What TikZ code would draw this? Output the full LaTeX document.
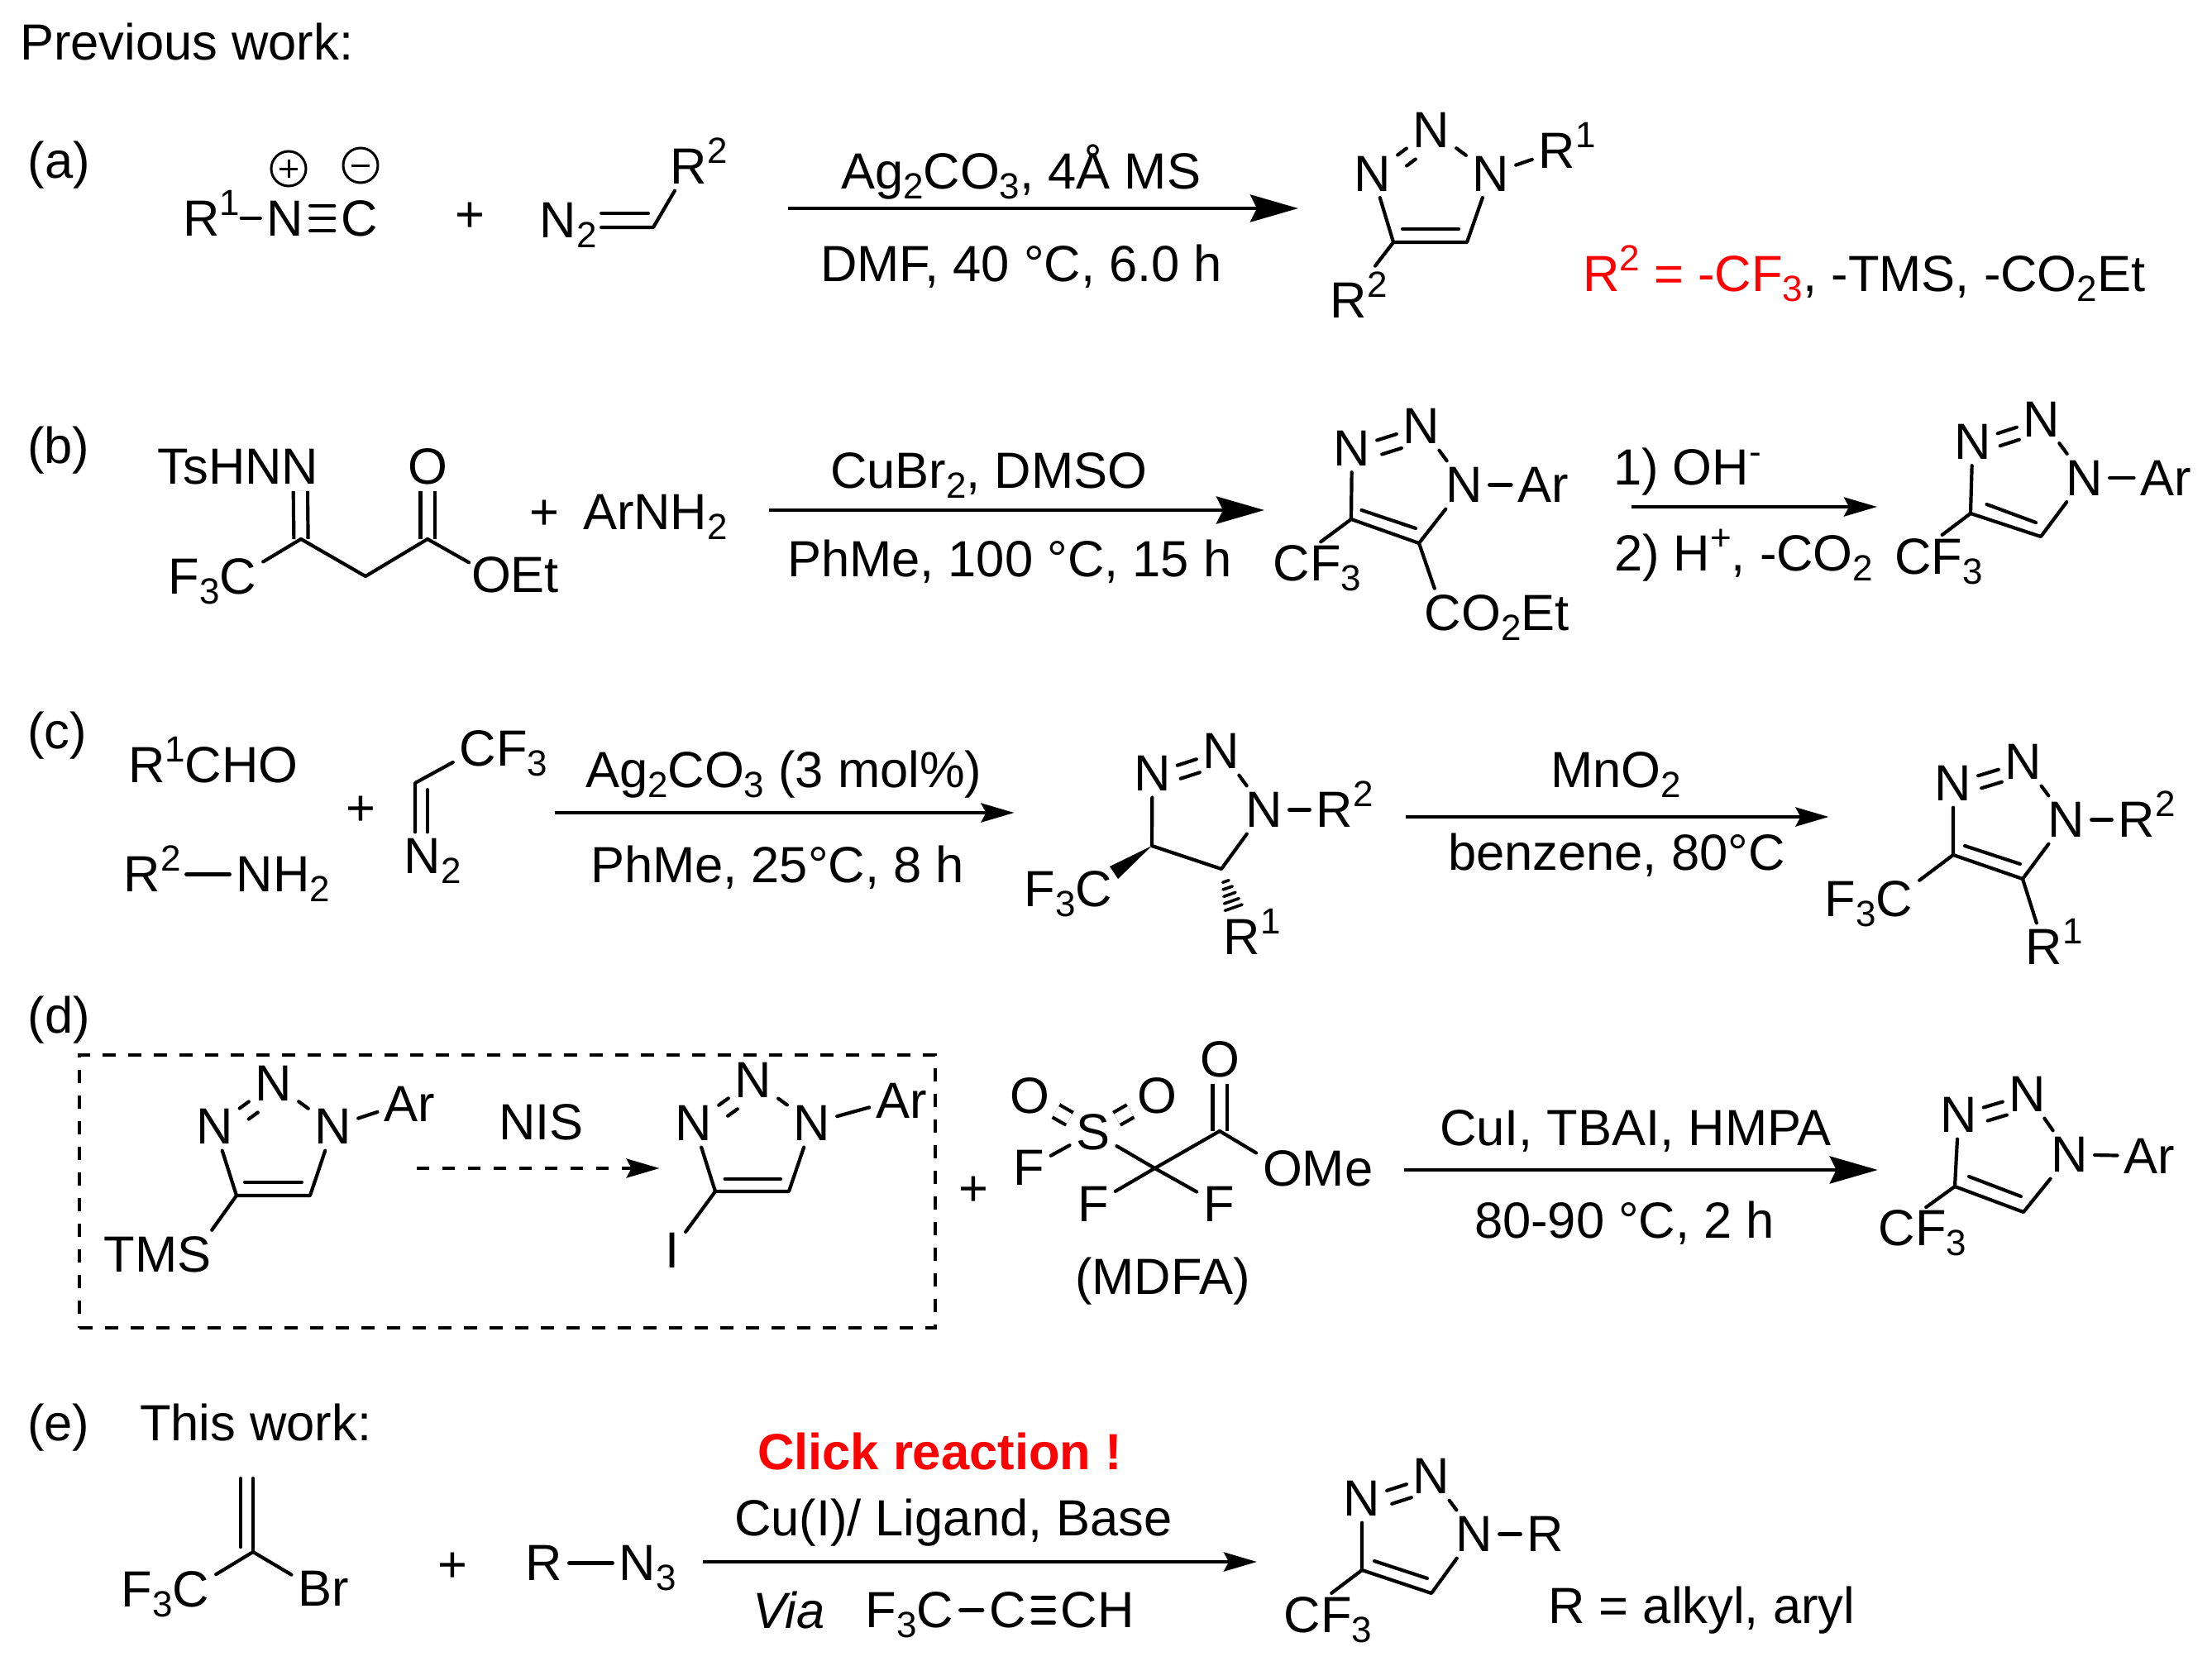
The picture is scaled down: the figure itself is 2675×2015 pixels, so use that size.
\documentclass[tikz,border=0pt]{standalone}
\usepackage{fontspec}
\setmainfont{Liberation Sans}
\usetikzlibrary{arrows.meta,calc}
\newcommand{\spx}[1]{\smash{\raisebox{25pt}{\fontsize{44}{44}\selectfont #1}}}
\newcommand{\sbx}[1]{\smash{\raisebox{-12pt}{\fontsize{44}{44}\selectfont #1}}}
% prefix, N1 (beside C4), N2 (apex), N3 (substituted), C4, C5, shift of the second N=N line
\newcommand{\tria}[7]{%
  \node[atom] (#1a) at #2 {N};
  \node[atom] (#1b) at #3 {N};
  \node[atom] (#1c) at #4 {N};
  \coordinate (#1d) at #5;
  \coordinate (#1e) at #6;
  \draw[bond] (#1a) -- (#1d) -- (#1e) -- (#1c);
  \draw[bond] (#1a) -- (#1b) -- (#1c);
  \draw[bond,transform canvas={shift={#7}}] (#1a) -- (#1b);
}
\tikzset{
  every node/.style={font=\fontsize{61.5}{72}\selectfont,outer sep=0pt},
  txt/.style={anchor=base west,inner sep=0pt},
  plusn/.style={anchor=base,inner sep=0pt},
  atom/.style={anchor=center,inner sep=8pt},
  atomw/.style={anchor=center,inner sep=13pt},
  bond/.style={line width=4.2pt,line cap=round,line join=round},
  dbl/.style={line width=4.2pt,double,double distance=13pt},
  bigarrow/.style={line width=4.5pt,-{Stealth[length=58pt,width=33pt,inset=8pt]}},
  smallarrow/.style={line width=4.5pt,-{Stealth[length=40pt,width=23pt,inset=6pt]}},
  dasharrow/.style={line width=4pt,dash pattern=on 15pt off 16pt,-{Stealth[length=40pt,width=23pt,inset=6pt]}},
  dashbox/.style={draw,line width=3.8pt,dash pattern=on 16pt off 15pt,inner sep=0pt,minimum width=1035pt,minimum height=330pt},
  charge/.style={circle,draw,line width=3pt,minimum size=42pt,inner sep=0pt},
}
\begin{document}
\begin{tikzpicture}[x=1pt,y=-1pt]
\useasboundingbox (0,0) rectangle (2675,2015);
\node[txt] (title) at (24,73) {Previous work:};

% ---------- (a)
\node[txt] (la) at (34,215) {(a)};
\node[atom] (ar1) at (243.5,264) {R\rlap{\spx{1}}};
\node[atom] (an) at (345,264) {N};
\node[atom] (ac) at (434.5,264) {C};
\draw[bond,shorten <=18pt] (ar1) -- (an);
\draw[bond] (an) -- (ac);
\draw[bond] ([yshift=-15pt]an.east) -- ([yshift=-15pt]ac.west);
\draw[bond] ([yshift=15pt]an.east) -- ([yshift=15pt]ac.west);
\node[charge] (apl) at (349,204) {};
\draw[line width=3pt] ([xshift=-11pt]apl.center) -- ([xshift=11pt]apl.center);
\draw[line width=3pt] ([yshift=-11pt]apl.center) -- ([yshift=11pt]apl.center);
\node[charge] (ami) at (436,200) {};
\draw[line width=3pt] ([xshift=-11pt]ami.center) -- ([xshift=11pt]ami.center);
\node[plusn] (aplus) at (568,280) {+};
\node[atom] (an2) at (675,266.5) {N\rlap{\sbx{2}}};
\coordinate (acv) at (790,275);
\coordinate (acv2) at (784,258);
\node[atom] (ar2) at (833,201.5) {R\rlap{\spx{2}}};
\draw[bond,shorten <=22pt] (acv -| an2.east) -- (acv) -- (ar2);
\draw[bond,shorten <=22pt] (acv2 -| an2.east) -- (acv2);
\node[txt] (arg1) at (1017,228) {Ag\sbx{2}CO\sbx{3}, 4Å MS};
\node[txt] (arg2) at (992,340) {DMF, 40 °C, 6.0 h};
\coordinate (aas) at (953,252);
\coordinate (aae) at (1570,252);
\draw[bigarrow] (aas) -- (aae);
\tria{ap}{(1660,210)}{(1731,157)}{(1803,210)}{(1685,293)}{(1774,293)}{(11,13)}
\coordinate (api) at (1696,277);
\coordinate (apj) at (1764,277);
\draw[bond] (api) -- (apj);
\node[atom] (apr1) at (1883,182.5) {R\rlap{\spx{1}}};
\draw[bond] (apc) -- (apr1);
\node[atom] (apr2) at (1631,363.5) {R\rlap{\spx{2}}};
\draw[bond,shorten >=16pt] (apd) -- (apr2);
\node[txt] (anote) at (1914.5,352) {\textcolor{red}{R\spx{2} = -CF\sbx{3}}, -TMS, -CO\sbx{2}Et};

% ---------- (b)
\node[txt] (lb) at (33,560) {(b)};
\node[atom] (bn) at (363,564.5) {\llap{TsHN}N};
\coordinate (bc1) at (364,652);
\coordinate (bch) at (442,697);
\coordinate (bc2) at (517,652);
\node[atom] (bo) at (517,564.5) {O};
\node[atom] (bf) at (288,697.5) {\llap{F\sbx{3}}C};
\node[atom,inner sep=3pt] (boe) at (594,695.5) {O\rlap{Et}};
\draw[dbl] (bn) -- (bc1);
\draw[dbl] (bo) -- (bc2);
\draw[bond] (bf) -- (bc1) -- (bch) -- (bc2) -- (boe);
\node[plusn] (bplus) at (658,640) {+};
\node[txt] (barn) at (705,640) {ArNH\sbx{2}};
\node[txt] (brg1) at (1004,590) {CuBr\sbx{2}, DMSO};
\node[txt] (brg2) at (952,697) {PhMe, 100 °C, 15 h};
\coordinate (bas) at (930,617);
\coordinate (bae) at (1529,617);
\draw[bigarrow] (bas) -- (bae);
\tria{bp}{(1635,542)}{(1719,515.5)}{(1771,586.5)}{(1634,628)}{(1716,657)}{(6,17)}
\coordinate (bpi) at (1646.5,617);
\coordinate (bpj) at (1712,639);
\draw[bond] (bpi) -- (bpj);
\node[atom] (bpar) at (1856,586.5) {A\rlap{r}};
\draw[bond] (bpc) -- (bpar);
\node[atomw] (bpcf) at (1562,681.5) {C\rlap{F\sbx{3}}};
\draw[bond] (bpd) -- (bpcf);
\node[atom] (bpco) at (1745,741.5) {C\rlap{O\sbx{2}Et}};
\draw[bond] (bpe) -- (bpco);
\node[txt] (brg3) at (1951,586) {1) OH\spx{-}};
\node[txt] (brg4) at (1952,690) {2) H\spx{+}, -CO\sbx{2}};
\coordinate (bbs) at (1972.6,613);
\coordinate (bbe) at (2270,613);
\draw[smallarrow] (bbs) -- (bbe);
\tria{bq}{(2385.5,534)}{(2469,507)}{(2521,578)}{(2383,621)}{(2468,649)}{(3,15)}
\coordinate (bqi) at (2402.6,610);
\coordinate (bqj) at (2462,632);
\draw[bond] (bqi) -- (bqj);
\node[atom] (bqar) at (2609,578) {A\rlap{r}};
\draw[bond] (bqc) -- (bqar);
\node[atomw] (bqcf) at (2313.5,673.5) {C\rlap{F\sbx{3}}};
\draw[bond] (bqd) -- (bqcf);

% ---------- (c)
\node[txt] (lc) at (33,905) {(c)};
\node[txt] (crcho) at (155,946) {R\spx{1}CHO};
\node[atom] (cr2) at (172,1057.5) {R\rlap{\spx{2}}};
\node[atom] (cnh) at (308,1057.5) {N\rlap{H\sbx{2}}};
\draw[bond,shorten <=23pt] (cr2) -- (cnh);
\node[plusn] (cplus) at (436,998.5) {+};
\node[atom] (ccf) at (578,905.5) {C\rlap{F\sbx{3}}};
\coordinate (ccv) at (502,947);
\coordinate (ccw) at (517,955);
\node[atom] (cn2) at (511,1035.5) {N\rlap{\sbx{2}}};
\draw[bond] (ccf) -- (ccv) -- (ccv |- cn2.north);
\draw[bond] (ccw) -- (ccw |- cn2.north);
\node[txt] (crg1) at (708,952) {Ag\sbx{2}CO\sbx{3} (3 mol\%)};
\node[txt] (crg2) at (714,1067) {PhMe, 25°C, 8 h};
\coordinate (cas) at (671,983);
\coordinate (cae) at (1226.5,983);
\draw[smallarrow] (cas) -- (cae);
% triazoline
\node[atom] (cpa) at (1393.5,935.5) {N};
\node[atom] (cpb) at (1477,908.5) {N};
\node[atom] (cpc) at (1529,979.5) {N};
\coordinate (cpd) at (1393,1023);
\coordinate (cpe) at (1477,1051);
\draw[bond] (cpa) -- (cpd) -- (cpe) -- (cpc);
\draw[bond] (cpa) -- (cpb) -- (cpc);
\draw[bond,transform canvas={shift={(4,16)}}] (cpa) -- (cpb);
\node[atom] (cpr2) at (1614,979.5) {R\rlap{\spx{2}}};
\draw[bond] (cpc) -- (cpr2);
\node[atom] (cpf) at (1323,1075.5) {\llap{F\sbx{3}}C};
\coordinate (cpw) at (1342,1048);
\coordinate (cpx) at (1352,1063);
\fill (cpd) -- (cpw) -- (cpx) -- cycle;
\node[atom] (cpr1) at (1502,1133.5) {R\rlap{\spx{1}}};
\coordinate (chs) at (1482.3,1066);
\coordinate (che) at (1491.7,1097.7);
\foreach \t/\w in {0/4,0.25/6,0.5/7.5,0.75/9.5,1/11}
  \draw[line width=3.6pt,line cap=round] ($(chs)!\t!(che)+(-.944*\w,.33*\w)$) -- ($(chs)!\t!(che)+(.944*\w,-.33*\w)$);
\node[txt] (crg3) at (1875,952) {MnO\sbx{2}};
\node[txt] (crg4) at (1751,1052) {benzene, 80°C};
\coordinate (cbs) at (1699.5,988);
\coordinate (cbe) at (2211.5,988);
\draw[smallarrow] (cbs) -- (cbe);
\tria{cq}{(2362,947.5)}{(2447,921.5)}{(2499,991.5)}{(2362,1034)}{(2446,1063)}{(4,15)}
\coordinate (cqi) at (2376,1023);
\coordinate (cqj) at (2443,1045);
\draw[bond] (cqi) -- (cqj);
\node[atom] (cqr2) at (2584,991.5) {R\rlap{\spx{2}}};
\draw[bond] (cqc) -- (cqr2);
\node[atom] (cqf) at (2291,1087.5) {\llap{F\sbx{3}}C};
\draw[bond] (cqd) -- (cqf);
\node[atom] (cqr1) at (2472,1145.5) {R\rlap{\spx{1}}};
\draw[bond] (cqe) -- (cqr1);

% ---------- (d)
\node[txt] (ld) at (34,1249) {(d)};
\node[dashbox] (dbox) at (613.3,1441) {};
\tria{dp}{(259.5,1362.5)}{(331,1310.5)}{(403,1362.5)}{(286,1446)}{(375,1446)}{(11,13)}
\coordinate (dpi) at (296,1430);
\coordinate (dpj) at (365,1430);
\draw[bond] (dpi) -- (dpj);
\node[atom] (dpar) at (485,1335.5) {A\rlap{r}};
\draw[bond] (dpc) -- (dpar);
\node[atom] (dpt) at (235,1517.5) {\llap{TM}S};
\draw[bond] (dpd) -- (dpt);
\node[txt] (dnis) at (603,1378) {NIS};
\coordinate (das) at (504,1413);
\coordinate (dae) at (797.6,1413);
\draw[dasharrow] (das) -- (dae);
\tria{dq}{(839,1358.5)}{(911,1306.5)}{(982,1358.5)}{(865,1441)}{(954,1441)}{(11,13)}
\coordinate (dqi) at (876.6,1426);
\coordinate (dqj) at (944,1426);
\draw[bond] (dqi) -- (dqj);
\node[atom] (dqar) at (1079.5,1331.5) {A\rlap{r}};
\draw[bond] (dqc) -- (dqar);
\node[atom] (dqi2) at (812.6,1512.5) {I};
\draw[bond] (dqd) -- (dqi2);
\node[plusn] (dplus) at (1177,1458.5) {+};
% MDFA
\node[atom] (mf) at (1244,1412.5) {F};
\node[atom] (ms) at (1322,1369.5) {S};
\node[atom] (mo1) at (1245,1325.5) {O};
\node[atom] (mo2) at (1399,1325.5) {O};
\node[atom] (mo3) at (1475,1281.5) {O};
\coordinate (mc1) at (1475,1368);
\coordinate (mc2) at (1396.5,1413);
\node[atom] (mf1) at (1322,1456.5) {F};
\node[atom] (mf2) at (1474,1456.5) {F};
\node[atom] (mo4) at (1551,1413.5) {O\rlap{Me}};
\draw[dbl] (mo1) -- (ms);
\draw[dbl] (mo2) -- (ms);
\draw[dbl] (mo3) -- (mc1);
\draw[bond] (mf) -- (ms) -- (mc2) -- (mf2);
\draw[bond] (mf1) -- (mc2) -- (mc1) -- (mo4);
\node[txt] (mdfa) at (1300,1565) {(MDFA)};
\node[txt] (drg1) at (1741,1385) {CuI, TBAI, HMPA};
\node[txt] (drg2) at (1783,1497) {80-90 °C, 2 h};
\coordinate (dbs) at (1698,1415);
\coordinate (dbe) at (2270.7,1415);
\draw[bigarrow] (dbs) -- (dbe);
\tria{dr}{(2368.5,1348.5)}{(2452,1323.5)}{(2503,1396.5)}{(2364,1435)}{(2447,1466)}{(5,16)}
\coordinate (dri) at (2381,1423);
\coordinate (drj) at (2444,1447);
\draw[bond] (dri) -- (drj);
\node[atom] (drar) at (2589,1398) {A\rlap{r}};
\draw[bond] (drc) -- (drar);
\node[atomw] (drf) at (2294,1485.5) {C\rlap{F\sbx{3}}};
\draw[bond] (drd) -- (drf);

% ---------- (e)
\node[txt] (le) at (33,1742) {(e)};
\node[txt] (ethis) at (169,1742) {This work:};
\coordinate (ev) at (306,1877);
\coordinate (et1) at (306,1788);
\coordinate (et2) at (290.6,1788);
\coordinate (et3) at (290.6,1871);
\draw[bond] (et1) -- (ev);
\draw[bond] (et2) -- (et3);
\node[atom] (ef) at (231,1922.5) {\llap{F\sbx{3}}C};
\node[atom] (ebr) at (381,1921.5) {B\rlap{r}};
\draw[bond] (ef) -- (ev) -- (ebr);
\node[plusn] (eplus) at (547,1913.5) {+};
\node[atom] (er) at (658,1890.5) {R};
\node[atom] (en3) at (771,1890.5) {N\rlap{\sbx{3}}};
\draw[bond] (er) -- (en3);
\node[txt,text=red] (eclick) at (916,1777) {\bfseries Click reaction !};
\node[txt] (erg1) at (888,1857) {Cu(I)/ Ligand, Base};
\coordinate (eas) at (850,1889);
\coordinate (eae) at (1520,1889);
\draw[smallarrow] (eas) -- (eae);
\node[txt] (evia) at (910,1969) {\itshape Via};
\node[atom] (evf) at (1131,1947.5) {\llap{F\sbx{3}}C};
\node[atom] (evc) at (1218.5,1947.5) {C};
\node[atom] (evd) at (1305,1947.5) {C\rlap{H}};
\draw[bond] (evf) -- (evc);
\draw[bond] (evc) -- (evd);
\draw[bond] ([yshift=-15pt]evc.east) -- ([yshift=-15pt]evd.west);
\draw[bond] ([yshift=15pt]evc.east) -- ([yshift=15pt]evd.west);
\tria{ep}{(1647,1812.5)}{(1731,1785.5)}{(1783,1855.5)}{(1647,1899)}{(1731,1927)}{(6,16)}
\coordinate (epi) at (1662,1888);
\coordinate (epj) at (1726,1909);
\draw[bond] (epi) -- (epj);
\node[atom] (epr) at (1869,1855.5) {R};
\draw[bond] (epc) -- (epr);
\node[atomw] (epf) at (1575,1953.5) {C\rlap{F\sbx{3}}};
\draw[bond] (epd) -- (epf);
\node[txt] (enote) at (1872.5,1963) {R = alkyl, aryl};
\end{tikzpicture}
\end{document}
